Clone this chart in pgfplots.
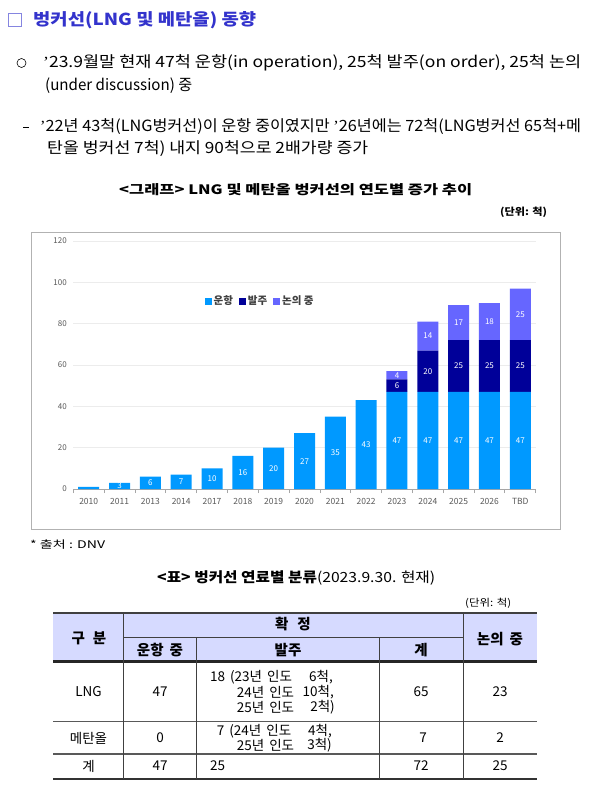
\documentclass[border=0pt]{standalone}
\usepackage{fontspec}
\setmainfont{Noto Sans CJK KR}
\newfontfamily\lsf{Liberation Serif}
\usepackage{graphicx}
\usepackage{pgfplots}
\pgfplotsset{compat=1.18}
\definecolor{cOp}{RGB}{0,153,255}
\definecolor{cOr}{RGB}{0,0,153}
\definecolor{cDi}{RGB}{102,102,255}
\definecolor{titleblue}{RGB}{51,51,204}
\definecolor{headfill}{RGB}{214,218,255}
\definecolor{tickgray}{RGB}{89,89,89}
\pgfplotsset{sqlegend/.style={legend image code/.code={\fill[##1] (0pt,-3.5pt) rectangle (7pt,3.5pt);}}}
\newcommand{\fs}[1]{\fontsize{#1}{#1}\selectfont}
\newcommand{\q}{{\lsf ’}}
\newcommand{\RT}[5]{\node[anchor=west,inner sep=0pt] at (#1,#2) {\resizebox{#3pt}{\height}{\fs{#4}#5}};}
\newcommand{\TC}[3]{\node[anchor=center,inner sep=0pt] at (#1,#2) {\fs{13.5}#3};}
\newcommand{\THd}[3]{\node[anchor=center,inner sep=0pt] at (#1,#2) {\fs{14.5}\bfseries #3};}
\newcommand{\TL}[3]{\node[anchor=west,inner sep=0pt] at (#1,#2) {\fs{13.5}#3};}
\newcommand{\TR}[3]{\node[anchor=east,inner sep=0pt] at (#1,#2) {\fs{13.5}#3};}
\newcommand{\gp}{\hspace{5pt}}
\begin{document}
\begin{tikzpicture}[x=1pt,y=-1pt]
\useasboundingbox (0,0) rectangle (592,794);
\fill[white] (0,0) rectangle (592,794);
% ---- heading and text
\draw[titleblue!60, line width=0.9pt] (8,13.5) rectangle (21,26.5);
\RT{33}{20}{223}{16.5}{\color{titleblue}\bfseries 벙커선(LNG 및 메탄올) 동향}
\draw[line width=0.6pt] (21.5,63) circle[radius=4.5pt];
\RT{43}{63}{538}{15.5}{\q 23.9월말 현재 47척 운항(in operation), 25척 발주(on order), 25척 논의}
\RT{45}{86}{147}{15.5}{(under discussion) 중}
\draw[line width=0.7pt] (23,127.5) -- (29,127.5);
\RT{40}{127}{541}{15.5}{\q 22년 43척(LNG벙커선)이 운항 중이였지만 \q 26년에는 72척(LNG벙커선 65척+메}
\RT{47}{149}{321}{15.5}{탄올 벙커선 7척) 내지 90척으로 2배가량 증가}
\RT{119}{190}{353}{13}{\bfseries <그래프> LNG 및 메탄올 벙커선의 연도별 증가 추이}
\RT{500}{212}{47}{10}{\bfseries (단위: 척)}
% ---- chart frame
\draw[gray!60, line width=0.8pt] (31,232) rectangle (560,529);
\begin{axis}[at={(73.3pt,-489pt)}, anchor=south west, scale only axis,
  width=462.4pt, height=248pt,
  ybar stacked, bar width=21pt,
  xmin=-0.5, xmax=14.5, ymin=0, ymax=120,
  axis lines*=left,
  y axis line style={draw=none},
  x axis line style={draw=gray!70, line width=0.8pt},
  xtick={0,...,14},
  xticklabels={2010,2011,2013,2014,2017,2018,2019,2020,2021,2022,2023,2024,2025,2026,TBD},
  minor xtick={-0.5,0.5,...,14.5},
  major tick length=0pt, minor tick length=4pt, tick align=outside,
  minor x tick style={draw=gray!70, line width=0.8pt},
  ytick={0,20,...,120},
  ymajorgrids, y grid style={gray!15, line width=0.6pt},
  xticklabel style={font=\fs{8.5}, text=tickgray, yshift=-5.5pt},
  yticklabel style={font=\fs{8}, text=tickgray, xshift=-3pt},
  /pgf/number format/assume math mode=true,
  legend style={at={(0.404,0.758)}, anchor=center, draw=none, fill=none,
    font=\fs{10.5}\bfseries, text=black!75, legend columns=3, inner sep=0pt,
    /tikz/every even column/.append style={column sep=4pt}},
]
\addplot[fill=cOp, draw=none, sqlegend]
  coordinates {(0,1) (1,3) (2,6) (3,7) (4,10) (5,16) (6,20) (7,27) (8,35) (9,43) (10,47) (11,47) (12,47) (13,47) (14,47)};
\addplot[fill=cOr, draw=none, sqlegend]
  coordinates {(0,0) (1,0) (2,0) (3,0) (4,0) (5,0) (6,0) (7,0) (8,0) (9,0) (10,6) (11,20) (12,25) (13,25) (14,25)};
\addplot[fill=cDi, draw=none, sqlegend]
  coordinates {(0,0) (1,0) (2,0) (3,0) (4,0) (5,0) (6,0) (7,0) (8,0) (9,0) (10,4) (11,14) (12,17) (13,18) (14,25)};
\legend{운항,발주,논의 중}
\end{axis}
\begin{axis}[at={(73.3pt,-489pt)}, anchor=south west, scale only axis,
  width=462.4pt, height=248pt,
  xmin=-0.5, xmax=14.5, ymin=0, ymax=120, hide axis]
\addplot[only marks, mark=none, point meta=explicit symbolic, nodes near coords,
  every node near coord/.append style={anchor=center, font=\fs{8}, text=white, inner sep=0pt}]
  coordinates {(1,1.5)[3] (2,3)[6] (3,3.5)[7] (4,5)[10] (5,8)[16] (6,10)[20] (7,13.5)[27]
   (8,17.5)[35] (9,21.5)[43] (10,23.5)[47] (11,23.5)[47] (12,23.5)[47] (13,23.5)[47] (14,23.5)[47]
   (10,50)[6] (11,57)[20] (12,59.5)[25] (13,59.5)[25] (14,59.5)[25]
   (10,55)[4] (11,74)[14] (12,80.5)[17] (13,81)[18] (14,84.5)[25]};
\end{axis}
% ---- source and table title
\RT{30}{545}{75}{10.5}{* 출처 : DNV}
\RT{157}{578}{278}{14}{\textbf{<표> 벙커선 연료별 분류}(2023.9.30. 현재)}
\RT{465}{603}{46}{10}{(단위: 척)}
% ---- table
\fill[headfill] (53.3,612.7) rectangle (537.3,661.7);
\draw[black!75, line width=1.6pt] (53.3,612.7) -- (537.3,612.7);
\draw[black!75, line width=0.9pt] (123.3,637) -- (463.3,637);
\draw[black!85, line width=2.6pt] (53.3,661.7) -- (537.3,661.7);
\draw[black!65, line width=1.1pt] (53.3,721.7) -- (537.3,721.7);
\draw[black!65, line width=1.1pt] (53.3,754) -- (537.3,754);
\draw[black!80, line width=1.6pt] (53.3,778.7) -- (537.3,778.7);
\draw[black!75, line width=0.9pt] (123.3,612.7) -- (123.3,778.7) (463.3,612.7) -- (463.3,778.7)
  (196.7,637) -- (196.7,778.7) (379.3,637) -- (379.3,778.7);
\THd{89}{638}{구\hspace{8pt}분}
\THd{293}{624}{확\hspace{9pt}정}
\THd{160}{650}{운항\hspace{6pt}중}
\THd{288}{650}{발주}
\THd{421}{650}{계}
\THd{500}{639}{논의\hspace{6pt}중}
\TC{88.5}{692}{LNG}
\TC{160}{692}{47}
\TC{421}{692}{65}
\TC{500}{692}{23}
\TL{210}{677}{18\gp{}(23년\gp{}인도}
\TR{333}{677}{6척,}
\TL{236.7}{692}{24년\gp{}인도}
\TR{334}{692}{10척,}
\TL{236.7}{707}{25년\gp{}인도}
\TR{335}{707}{2척)}
\TC{88.5}{738}{메탄올}
\TC{160}{738}{0}
\TC{423}{738}{7}
\TC{500}{738}{2}
\TL{216.7}{731}{7\gp{}(24년\gp{}인도}
\TR{332}{731}{4척,}
\TL{236.7}{745}{25년\gp{}인도}
\TR{332}{745}{3척)}
\TC{88.5}{766}{계}
\TC{160}{766}{47}
\TL{210}{766}{25}
\TC{421}{766}{72}
\TC{500}{766}{25}
\end{tikzpicture}
\end{document}
